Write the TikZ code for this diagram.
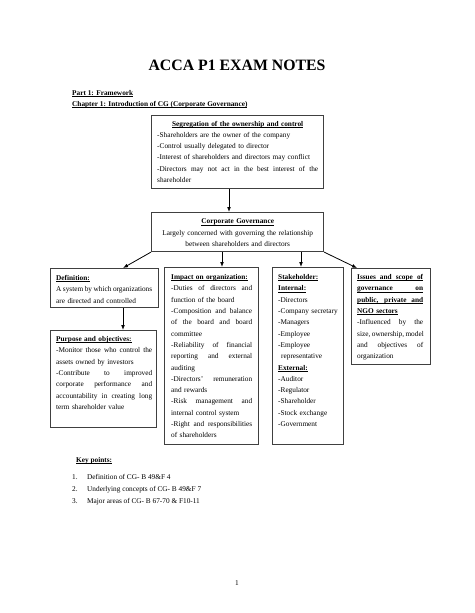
\documentclass[tikz,border=0pt]{standalone}
\usepackage{fontspec}
\setmainfont{Liberation Serif}
\usetikzlibrary{arrows.meta,calc}
\newdimen\tw
\newcommand\uln[1]{\leavevmode\setbox0\hbox{#1}\rlap{\rule[-1.3pt]{\wd0}{0.5pt}}\box0}
\newcommand\J[1]{\leavevmode\hbox to \tw{\spaceskip=0.25em plus 10em minus 0.06em\relax #1}}
\begin{document}
\begin{tikzpicture}[x=1pt,y=-1pt,
  boxx/.style={draw=black!75, line width=1.1pt, inner sep=0pt, anchor=north west},
  txt/.style={inner sep=0pt, anchor=base west, align=left, font=\fontsize{7.3}{11.3}\selectfont},
  ctxt/.style={inner sep=0pt, anchor=base west, align=center, font=\fontsize{7.3}{11.3}\selectfont},
  arr/.style={-{Latex[length=5pt,width=3.8pt]}, line width=0.8pt, black}]
\useasboundingbox (0,0) rectangle (474,613);
\fill[white] (0,0) rectangle (474,613);
% title and headings
\node[inner sep=0pt, font=\fontsize{15.8}{18}\selectfont\bfseries] (title) at (237,65) {ACCA P1 EXAM NOTES};
\node[txt] (part) at (72,95.4) {\uln{\textbf{Part 1: Framework}}};
\node[txt] (chap) at (72,106.4) {\uln{\textbf{Chapter 1: Introduction of CG (Corporate Governance)}}};
% boxes
\node[boxx, minimum width=172pt, minimum height=73pt] (seg) at (151,115) {};
\node[boxx, minimum width=172pt, minimum height=39pt] (cg) at (151,212) {};
\node[boxx, minimum width=108pt, minimum height=39pt] (def) at (50,268) {};
\node[boxx, minimum width=106pt, minimum height=97pt] (purp) at (50,330) {};
\node[boxx, minimum width=94pt, minimum height=177pt] (imp) at (164,267) {};
\node[boxx, minimum width=71pt, minimum height=177pt] (stk) at (272,267) {};
\node[boxx, minimum width=79pt, minimum height=96pt] (iss) at (351,268) {};
% box texts
\node[txt, text width=161pt] (segt) at (157,126.0) {\tw=161pt\relax
\makebox[161pt][c]{\uln{\textbf{Segregation of the ownership and control}}}\\
-Shareholders are the owner of the company\\
-Control usually delegated to director\\
-Interest of shareholders and directors may conflict\\
\J{-Directors may not act in the best interest of the}\\
shareholder};
\node[ctxt, text width=161pt] (cgt) at (157,223.8) {%
\uln{\textbf{Corporate Governance}}\\
Largely concerned with governing the relationship\\
between shareholders and directors};
\node[txt, text width=96pt] (deft) at (56,280.6) {\tw=96pt\relax
\uln{\textbf{Definition:}}\\
\J{A system by which organizations}\\
are directed and controlled};
\node[txt, text width=96pt] (purpt) at (56,341.6) {\tw=96pt\relax
\uln{\textbf{Purpose and objectives:}}\\
\J{-Monitor those who control the}\\
assets owned by investors\\
\J{-Contribute to improved}\\
\J{corporate performance and}\\
\J{accountability in creating long}\\
term shareholder value};
\node[txt, text width=81pt] (impt) at (171,279.6) {\tw=81pt\relax
\uln{\textbf{Impact on organization:}}\\
\J{-Duties of directors and}\\
function of the board\\
\J{-Composition and balance}\\
\J{of the board and board}\\
committee\\
\J{-Reliability of financial}\\
\J{reporting and external}\\
auditing\\
\J{-Directors’ remuneration}\\
and rewards\\
\J{-Risk management and}\\
internal control system\\
\J{-Right and responsibilities}\\
of shareholders};
\node[txt, text width=62pt] (stkt) at (278,279.6) {%
\uln{\textbf{Stakeholder:}}\\
\uln{\textbf{Internal:}}\\
-Directors\\
-Company secretary\\
-Managers\\
-Employee\\
-Employee\\
\hspace*{3pt}representative\\
\uln{\textbf{External:}}\\
-Auditor\\
-Regulator\\
-Shareholder\\
-Stock exchange\\
-Government};
\node[txt, text width=66pt] (isst) at (357,279.6) {\tw=66pt\relax
\uln{\J{\textbf{Issues and scope of}}}\\
\uln{\J{\textbf{governance on}}}\\
\uln{\J{\textbf{public, private and}}}\\
\uln{\textbf{NGO sectors}}\\
\J{-Influenced by the}\\
\J{size, ownership, model}\\
\J{and objectives of}\\
organization};
% connectors
\coordinate (a1) at (229,0);
\coordinate (a2) at (123,0);
\coordinate (a3) at (222,0);
\coordinate (a4) at (301,0);
\coordinate (a5) at (357,0);
\draw[arr] (seg.south -| a1) -- (cg.north -| a1);
\draw[arr] (cg.south west) -- (def.north -| a2);
\draw[arr] (def.south -| a2) -- (purp.north -| a2);
\draw[arr] (cg.south -| a3) -- (imp.north -| a3);
\draw[arr] (cg.south -| a4) -- (stk.north -| a4);
\draw[arr] (cg.south east) -- (iss.north -| a5);
% key points
\node[txt] (key) at (76,462.6) {\uln{\textbf{Key points:}}};
\node[txt] (n1) at (72,479.6) {1.};
\node[txt] (k1) at (87,479.6) {Definition of CG- B 49\&F 4};
\node[txt] (n2) at (72,491.6) {2.};
\node[txt] (k2) at (87,491.6) {Underlying concepts of CG- B 49\&F 7};
\node[txt] (n3) at (72,503.6) {3.};
\node[txt] (k3) at (87,503.6) {Major areas of CG- B 67-70 \& F10-11};
\node[inner sep=0pt, font=\fontsize{7.3}{9}\selectfont] (pg) at (237,583) {1};
\end{tikzpicture}
\end{document}
